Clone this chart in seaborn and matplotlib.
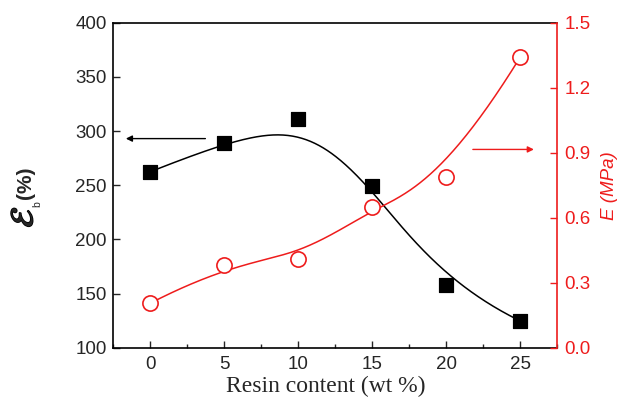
import numpy as np
import pandas as pd
import matplotlib
matplotlib.use("Agg")
import matplotlib.pyplot as plt
import matplotlib.patheffects as pe
from matplotlib.ticker import MultipleLocator
import seaborn as sns

# ---- data ----
resin = [0, 5, 10, 15, 20, 25]
elong = [262.5, 289.2, 311.1, 249.3, 157.9, 124.7]     # eps_b (%)
modulus = [0.206, 0.381, 0.409, 0.649, 0.789, 1.342]    # E (MPa)
left_ticks = [100, 150, 200, 250, 300, 350, 400]
right_ticks = [0.0, 0.3, 0.6, 0.9, 1.2, 1.5]
x_ticks = [0, 5, 10, 15, 20, 25]


def bspline(px, py, n=300, k=3):
    """Clamped uniform cubic B-spline using the data as control points."""
    P = np.column_stack([px, py]).astype(float)
    m = len(P)
    knots = np.concatenate([np.zeros(k), np.linspace(0, 1, m - k + 1), np.ones(k)])
    ts = np.linspace(0, 1, n)
    pts = []
    for t in ts:
        N = np.zeros(len(knots) - 1)
        for i in range(len(knots) - 1):
            if knots[i] <= t < knots[i + 1]:
                N[i] = 1.0
        if t >= 1.0:
            N[:] = 0
            N[m - 1] = 1.0
        for d in range(1, k + 1):
            newN = np.zeros(len(knots) - 1 - d)
            for i in range(len(newN)):
                a = 0.0
                den1 = knots[i + d] - knots[i]
                if den1 > 0:
                    a += (t - knots[i]) / den1 * N[i]
                den2 = knots[i + d + 1] - knots[i + 1]
                if den2 > 0:
                    a += (knots[i + d + 1] - t) / den2 * N[i + 1]
                newN[i] = a
            N = newN
        pts.append(N @ P)
    pts = np.array(pts)
    return pts[:, 0], pts[:, 1]


sns.set_style("ticks")
plt.rcParams["font.family"] = ["Liberation Sans", "DejaVu Sans"]
plt.rcParams["mathtext.fontset"] = "stix"

W, H = 620, 397
fig = plt.figure(figsize=(W / 100, H / 100), dpi=100)
ax = fig.add_axes([0.183, 0.124, 0.716, 0.819])
ax2 = ax.twinx()

RED = "#ee1c1c"

# curves
bx, by = bspline(resin, elong)
rx, ry = bspline(resin, modulus)
sns.lineplot(x=bx, y=by, ax=ax, color="black", lw=1.1, sort=False, estimator=None)
sns.lineplot(x=rx, y=ry, ax=ax2, color=RED, lw=1.1, sort=False, estimator=None)

df = pd.DataFrame({"resin": resin, "elong": elong, "modulus": modulus})
sns.scatterplot(data=df, x="resin", y="elong", ax=ax, marker="s", s=115,
                color="black", edgecolor="black", zorder=5)
sns.scatterplot(data=df, x="resin", y="modulus", ax=ax2, marker="o", s=120,
                facecolor="white", edgecolor=RED, linewidth=1.2, zorder=5)

ax.set_xlim(-2.5, 27.5)
ax.set_ylim(100, 400)
ax2.set_ylim(0, 1.5)
ax.set_xticks(x_ticks)
ax.set_yticks(left_ticks)
ax2.set_yticks(right_ticks)
ax.set_xticklabels([str(v) for v in x_ticks])
ax.set_yticklabels([str(v) for v in left_ticks])
ax2.set_yticklabels([f"{v:.1f}" for v in right_ticks])
ax.xaxis.set_minor_locator(MultipleLocator(2.5))

ax.tick_params(axis="both", which="major", direction="in", length=5, width=1.0,
               labelsize=13.5, pad=5, top=False, right=False)
ax.tick_params(axis="x", which="major", pad=6)
ax.tick_params(axis="x", which="minor", direction="in", length=3, width=1.0, top=False)
ax.tick_params(axis="y", which="minor", left=False)
ax2.tick_params(axis="y", which="major", direction="in", length=5, width=1.0,
                labelsize=13.5, pad=5, colors=RED)

for s in ["left", "bottom", "top"]:
    ax.spines[s].set_linewidth(1.2)
    ax.spines[s].set_color("black")
ax.spines["right"].set_visible(False)
for s in ["left", "bottom", "top"]:
    ax2.spines[s].set_visible(False)
ax2.spines["right"].set_color(RED)
ax2.spines["right"].set_linewidth(1.2)

ax.set_xlabel("Resin content (wt %)", fontsize=17, family=["Liberation Serif"])
ax.xaxis.set_label_coords(0.479, -0.085)
ax.set_ylabel("")
ax2.set_ylabel("E (MPa)", fontsize=13.5, color=RED, style="italic")
ax2.yaxis.set_label_coords(1.098, 0.5)

# left axis label built from pieces (script epsilon, subscript b, (%))
def px(x, y):
    return x / W, 1 - y / H

fig.text(*px(24.5, 217), r"$\mathcal{E}$", rotation=90, ha="center", va="center",
         fontsize=23, path_effects=[pe.withStroke(linewidth=1.2, foreground="black")])
fig.text(*px(37, 204), "b", rotation=90, ha="center", va="center", fontsize=7.5)
fig.text(*px(25.5, 183), "(%)", rotation=90, ha="center", va="center",
         fontsize=15, fontweight="bold")

# arrows
ax.annotate("", xy=(-1.85, 293), xytext=(3.9, 293),
            arrowprops=dict(arrowstyle="-|>", color="black", lw=1.0, mutation_scale=9))
ax2.annotate("", xy=(26.1, 0.915), xytext=(21.6, 0.915),
             arrowprops=dict(arrowstyle="-|>", color=RED, lw=1.0, mutation_scale=9))

fig.savefig("out.png", dpi=100)
